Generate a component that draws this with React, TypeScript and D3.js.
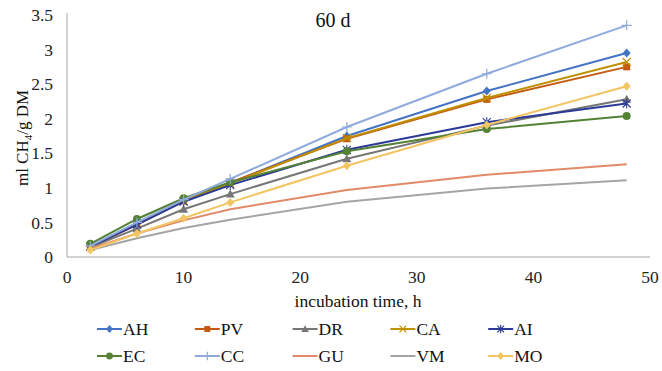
import React from "react";
import * as d3 from "d3";

const hours = [2, 6, 10, 14, 24, 36, 48];
const seriesNames = ["AH", "PV", "DR", "CA", "AI", "EC", "CC", "GU", "VM", "MO"];
const AH = [0.15, 0.49, 0.82, 1.07, 1.75, 2.4, 2.95];
const PV = [0.14, 0.47, 0.81, 1.08, 1.71, 2.28, 2.75];
const DR = [0.14, 0.41, 0.69, 0.91, 1.42, 1.9, 2.28];
const CA = [0.15, 0.48, 0.81, 1.06, 1.72, 2.3, 2.82];
const AI = [0.15, 0.47, 0.8, 1.04, 1.55, 1.95, 2.22];
const EC = [0.19, 0.55, 0.85, 1.08, 1.53, 1.85, 2.04];
const CC = [0.16, 0.5, 0.83, 1.13, 1.88, 2.65, 3.35];
const GU = [0.12, 0.34, 0.53, 0.69, 0.97, 1.19, 1.34];
const VM = [0.1, 0.27, 0.42, 0.54, 0.8, 0.99, 1.11];
const MO = [0.1, 0.34, 0.56, 0.79, 1.32, 1.91, 2.47];
const xTicks = [0, 10, 20, 30, 40, 50];
const yTicks = [0, 0.5, 1, 1.5, 2, 2.5, 3, 3.5];

const seriesValues = [AH, PV, DR, CA, AI, EC, CC, GU, VM, MO];
const colors = ["#4472C4", "#C55A11", "#767676", "#BF9000", "#2B3A97", "#548235", "#8FAADC", "#E08A6A", "#A5A5A5", "#F2C462"];
const markers = ["diamond", "square", "triangle", "x", "star", "circle", "plus", "none", "none", "diamond"];

const FONT = "'Liberation Serif', 'Times New Roman', serif";

function Marker({ type, x, y, color, k = 1 }: { type: string; x: number; y: number; color: string; k?: number }) {
  const s = 4 * k;
  if (type === "diamond") return <path d={`M${x},${y - s - 0.5}L${x + s},${y}L${x},${y + s + 0.5}L${x - s},${y}Z`} fill={color} />;
  if (type === "square") return <rect x={x - 3.5 * k} y={y - 3.5 * k} width={7 * k} height={7 * k} fill={color} />;
  if (type === "triangle") return <path d={`M${x},${y - 4.5 * k}L${x + 4.5 * k},${y + 3.5 * k}L${x - 4.5 * k},${y + 3.5 * k}Z`} fill={color} />;
  if (type === "circle") return <circle cx={x} cy={y} r={4 * k} fill={color} />;
  if (type === "x") return <path d={`M${x - s},${y - s}L${x + s},${y + s}M${x - s},${y + s}L${x + s},${y - s}`} stroke={color} strokeWidth={1.2} />;
  if (type === "plus") return <path d={`M${x - 5 * k},${y}L${x + 5 * k},${y}M${x},${y - 5 * k}L${x},${y + 5 * k}`} stroke={color} strokeWidth={1.2} />;
  if (type === "star") return <path d={`M${x - s},${y - s}L${x + s},${y + s}M${x - s},${y + s}L${x + s},${y - s}M${x},${y - 5 * k}L${x},${y + 5 * k}`} stroke={color} strokeWidth={1.1} />;
  return null;
}

export default function App() {
  const W = 662, H = 371;
  const x = d3.scaleLinear().domain([0, 50]).range([67, 650]);
  const y = d3.scaleLinear().domain([0, 3.5]).range([257, 15]);
  const line = d3.line<[number, number]>().x(d => x(d[0])).y(d => y(d[1]));

  const legendX0 = 97, legendDX = 97.8;
  const legendY = [329, 356];

  return (
    <svg width={W} height={H} style={{ position: "absolute", left: 0, top: 0, background: "#fff" }} fontFamily={FONT}>
      <rect width={W} height={H} fill="#fff" />
      <line x1={x(0)} x2={x(0)} y1={y(3.5) - 2} y2={y(0)} stroke="#a6a6a6" strokeWidth={1} />
      <line x1={x(0)} x2={x(50)} y1={y(0)} y2={y(0)} stroke="#a6a6a6" strokeWidth={1} />
      {yTicks.map(t => (
        <text key={t} x={53} y={y(t)} dy="0.35em" textAnchor="end" fontSize={17.5} fill="#222">{t}</text>
      ))}
      {xTicks.map(t => (
        <text key={t} x={x(t)} y={277} dy="0.35em" textAnchor="middle" fontSize={17.5} fill="#222">{t}</text>
      ))}
      <text x={333} y={27} textAnchor="middle" fontSize={20} fill="#111">60 d</text>
      <text x={358} y={307} textAnchor="middle" fontSize={17.5} fill="#111">incubation time, h</text>
      <text transform={`translate(28,${138}) rotate(-90)`} textAnchor="middle" fontSize={17} fill="#111">
        ml CH<tspan fontSize={11} dy={4}>4</tspan><tspan dy={-4}>/g DM</tspan>
      </text>
      {seriesValues.map((vals, i) => {
        const pts = hours.map((h, j) => [h, vals[j]] as [number, number]);
        return (
          <g key={seriesNames[i]}>
            <path d={line(pts) || ""} fill="none" stroke={colors[i]} strokeWidth={2} />
            {pts.map((p, j) => (
              <Marker key={j} type={markers[i]} x={x(p[0])} y={y(p[1])} color={colors[i]} />
            ))}
          </g>
        );
      })}
      {seriesNames.map((n, i) => {
        const col = i % 5, row = Math.floor(i / 5);
        const lx = legendX0 + col * legendDX;
        const ly = legendY[row];
        return (
          <g key={n}>
            <line x1={lx} x2={lx + 25} y1={ly} y2={ly} stroke={colors[i]} strokeWidth={2} />
            <Marker type={markers[i]} x={lx + 12.5} y={ly} color={colors[i]} k={0.85} />
            <text x={lx + 26} y={ly} dy="0.35em" fontSize={17.5} fill="#111">{n}</text>
          </g>
        );
      })}
    </svg>
  );
}
